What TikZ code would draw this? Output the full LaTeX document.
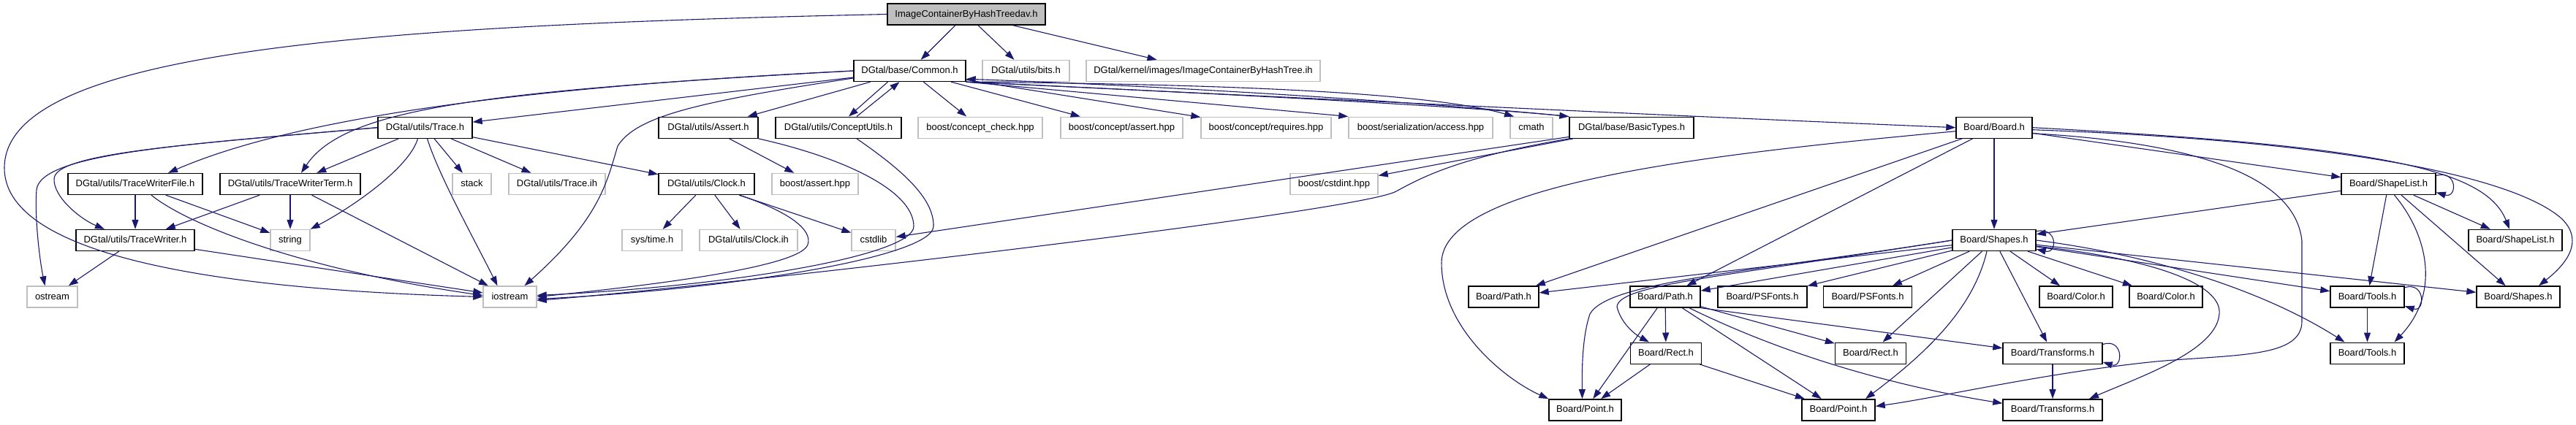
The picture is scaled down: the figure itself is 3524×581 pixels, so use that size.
\documentclass[tikz,border=0pt]{standalone}
\usepackage{fontspec}
\setmainfont{Liberation Sans}
\usetikzlibrary{arrows.meta}
\definecolor{edgeblue}{HTML}{191970}
\definecolor{extgray}{HTML}{BFBFBF}
\begin{document}
\begin{tikzpicture}[x=1pt,y=-1pt,
 nd/.style={draw=black, fill=white, line width=1.4pt, minimum height=29pt, inner sep=0pt, font=\fontsize{13}{15}\selectfont, text height=9.5pt, text depth=2.5pt},
 ndext/.style={nd, draw=extgray},
 nroot/.style={nd, fill=extgray},
 edg/.style={draw=edgeblue, line width=1.1pt, -{Triangle[length=13pt,width=9pt]}}]
\fill[white] (0,0) rectangle (3524,581);
\useasboundingbox (0,0) rectangle (3524,581);
% row 0
\node[nroot, minimum width=216pt] (top) at (1322,19.5) {ImageContainerByHashTreedav.h};
% row 1
\node[nd, minimum width=153pt] (common) at (1244.5,97) {DGtal/base/Common.h};
\node[ndext, minimum width=119pt] (bits) at (1403.5,97) {DGtal/utils/bits.h};
\node[ndext, minimum width=320pt] (ihash) at (1646,97) {DGtal/kernel/images/ImageContainerByHashTree.ih};
% row 2
\node[nd, minimum width=129pt] (trace) at (581.5,174.7) {DGtal/utils/Trace.h};
\node[nd, minimum width=136pt] (assert) at (969,174.7) {DGtal/utils/Assert.h};
\node[nd, minimum width=172pt] (concept) at (1147,174.7) {DGtal/utils/ConceptUtils.h};
\node[ndext, minimum width=170pt] (cc) at (1341,174.7) {boost/concept\_check.hpp};
\node[ndext, minimum width=167pt] (cassert) at (1534.5,174.7) {boost/concept/assert.hpp};
\node[ndext, minimum width=178pt] (creq) at (1732,174.7) {boost/concept/requires.hpp};
\node[ndext, minimum width=197pt] (ser) at (1943.5,174.7) {boost/serialization/access.hpp};
\node[ndext, minimum width=58pt] (cmath) at (2095,174.7) {cmath};
\node[nd, minimum width=170pt] (basic) at (2232,174.7) {DGtal/base/BasicTypes.h};
\node[nd, minimum width=104pt] (board) at (2728,174.7) {Board/Board.h};
% row 3
\node[nd, minimum width=184pt] (twf) at (185,252) {DGtal/utils/TraceWriterFile.h};
\node[nd, minimum width=192pt] (twt) at (397,252) {DGtal/utils/TraceWriterTerm.h};
\node[ndext, minimum width=53pt] (stack) at (645.5,252) {stack};
\node[ndext, minimum width=132pt] (traceih) at (762,252) {DGtal/utils/Trace.ih};
\node[nd, minimum width=131pt] (clock) at (966.5,252) {DGtal/utils/Clock.h};
\node[ndext, minimum width=118pt] (bassert) at (1115,252) {boost/assert.hpp};
\node[ndext, minimum width=120pt] (cstdint) at (1825,252) {boost/cstdint.hpp};
\node[nd, minimum width=129pt] (shapelist) at (3267.5,252) {Board/ShapeList.h};
% row 4
\node[nd, minimum width=162pt] (tw) at (185,329) {DGtal/utils/TraceWriter.h};
\node[ndext, minimum width=54pt] (nstring) at (397,329) {string};
\node[ndext, minimum width=82pt] (systime) at (892,329) {sys/time.h};
\node[ndext, minimum width=134pt] (clockih) at (1024,329) {DGtal/utils/Clock.ih};
\node[ndext, minimum width=60pt] (cstdlib) at (1195,329) {cstdlib};
\node[nd, minimum width=114pt] (shapes) at (2728,329) {Board/Shapes.h};
\node[nd, minimum width=128pt] (shapelist2) at (3441,329) {Board/ShapeList.h};
% row 5
\node[ndext, minimum width=69pt] (ostream) at (71.5,406.5) {ostream};
\node[ndext, minimum width=73pt] (iostream) at (697.5,406.5) {iostream};
\node[nd, minimum width=96pt] (path1) at (2057,406.5) {Board/Path.h};
\node[nd, minimum width=96pt] (path2) at (2278,406.5) {Board/Path.h};
\node[nd, minimum width=122pt] (psf1) at (2411,406.5) {Board/PSFonts.h};
\node[nd, minimum width=121pt] (psf2) at (2555,406.5) {Board/PSFonts.h};
\node[nd, minimum width=100pt] (color1) at (2840,406.5) {Board/Color.h};
\node[nd, minimum width=100pt] (color2) at (2963,406.5) {Board/Color.h};
\node[nd, minimum width=101pt] (tools1) at (3238.5,406.5) {Board/Tools.h};
\node[nd, minimum width=114pt] (shapes2) at (3445,406.5) {Board/Shapes.h};
% row 6
\node[nd, minimum width=97pt] (rect1) at (2279,483.7) {Board/Rect.h};
\node[nd, minimum width=97pt] (rect2) at (2559,483.7) {Board/Rect.h};
\node[nd, minimum width=136pt] (trans1) at (2808,483.7) {Board/Transforms.h};
\node[nd, minimum width=101pt] (tools2) at (3238.5,483.7) {Board/Tools.h};
% row 7
\node[nd, minimum width=99pt] (point1) at (2168.5,561.3) {Board/Point.h};
\node[nd, minimum width=100pt] (point2) at (2515,561.3) {Board/Point.h};
\node[nd, minimum width=136pt] (trans2) at (2808,561.3) {Board/Transforms.h};

% ---- edges from top
\draw[edg] (top) -- (common);
\draw[edg] (top) -- (bits);
\draw[edg] (top) -- (ihash);
\draw[edg] (top.west) .. controls (500,35) and (6,70) .. (6,230) .. controls (6,340) and (250,395) .. (iostream.west);
% ---- Common.h
\draw[edg] (common) -- (trace);
\draw[edg] (common.west) .. controls (800,115) and (430,150) .. ([xshift=45pt]twf.north);
\draw[edg] (common.west) .. controls (650,125) and (470,150) .. ([xshift=15pt]twt.north);
\draw[edg] ([yshift=-10pt]common.west) .. controls (950,140) and (870,160) .. (845,200) .. controls (830,250) and (820,300) .. ([xshift=20pt]iostream.north);
\draw[edg] (common) -- (assert);
\draw[edg] ([xshift=-30pt]common.south) -- ([xshift=14pt]concept.north);
\draw[edg] ([xshift=25pt]concept.north) -- ([xshift=-14pt]common.south);
\draw[edg] (common) -- (cc);
\draw[edg] (common) -- (cassert);
\draw[edg] (common) -- (creq);
\draw[edg] (common.south east) -- (ser.north west);
\draw[edg] (common.south east) .. controls (1650,115) and (1950,125) .. ([xshift=-24pt]cmath.north);
\draw[edg] (common.south east) .. controls (1600,125) and (2000,145) .. (basic.north west);
\draw[edg] (basic.north west) .. controls (1950,140) and (1600,118) .. ([yshift=4pt]common.south east);
\draw[edg] (common.south east) .. controls (1700,130) and (2200,155) .. (board.west);
% ---- Trace.h
\draw[edg] (trace) -- (twt);
\draw[edg] (trace) -- (stack);
\draw[edg] (trace) -- (traceih);
\draw[edg] (trace) -- (clock);
\draw[edg] ([xshift=-10pt]trace.south) .. controls (560,230) and (480,285) .. (nstring.north east);
\draw[edg] ([xshift=3pt]trace.south) .. controls (600,240) and (650,330) .. ([xshift=-17pt]iostream.north);
\draw[edg] (trace.west) .. controls (250,198) and (75,210) .. (74,245) .. controls (73,270) and (110,300) .. ([xshift=-42pt]tw.north);
\draw[edg] (trace.west) .. controls (250,198) and (55,210) .. (50,260) .. controls (47,300) and (55,360) .. ([xshift=-10pt]ostream.north);
% ---- TraceWriterFile.h
\draw[edg] (twf) -- (tw);
\draw[edg] (twf) -- (nstring);
\draw[edg] ([xshift=22pt]twf.south) .. controls (260,310) and (420,370) .. ([yshift=2pt]iostream.west);
% ---- TraceWriterTerm.h
\draw[edg] (twt) -- (tw);
\draw[edg] (twt) -- (nstring);
\draw[edg] (twt) -- (iostream);
% ---- TraceWriter.h
\draw[edg] (tw) -- (ostream);
\draw[edg] (tw) -- (iostream);
% ---- Clock.h
\draw[edg] (clock) -- (systime);
\draw[edg] (clock) -- (clockih);
\draw[edg] (clock) -- (cstdlib);
\draw[edg] ([xshift=45pt]clock.south) .. controls (1080,290) and (1112,315) .. (1105,335) .. controls (1095,365) and (900,390) .. (iostream.east);
% ---- Assert.h
\draw[edg] (assert) -- (bassert);
\draw[edg] (assert.south east) .. controls (1150,215) and (1250,260) .. (1250,310) .. controls (1250,350) and (1000,392) .. ([yshift=2pt]iostream.east);
% ---- ConceptUtils.h
\draw[edg] ([xshift=25pt]concept.south) .. controls (1230,230) and (1278,270) .. (1277,310) .. controls (1276,352) and (1000,396) .. ([yshift=-3pt]iostream.east);
% ---- BasicTypes.h
\draw[edg] (basic) -- (cstdint);
\draw[edg] (basic) -- (cstdlib);
\draw[edg] (basic.south west) .. controls (2000,215) and (1950,240) .. (1910,262) .. controls (1860,290) and (1000,390) .. ([yshift=-5pt]iostream.east);
% ---- Board.h
\draw[edg] (board) -- (shapes);
\draw[edg] (board) -- (shapelist);
\draw[edg] (board.east) .. controls (3250,200) and (3400,230) .. ([xshift=-8pt]shapelist2.north);
\draw[edg] ([yshift=-3pt]board.east) .. controls (3250,195) and (3450,250) .. (3505,300) .. controls (3540,335) and (3500,370) .. ([xshift=28pt]shapes2.north);
\draw[edg] ([yshift=-5pt]board.west) .. controls (2350,210) and (1972,250) .. (1972,360) .. controls (1972,450) and (2060,520) .. (point1.north west);
\draw[edg] (board) -- (path1);
\draw[edg] (board) -- (path2);
\draw[edg] ([yshift=-8pt]board.east) .. controls (3000,195) and (3140,240) .. (3149,330) -- (3149,440) .. controls (3149,490) and (3060,485) .. (2950,495) .. controls (2800,510) and (2650,545) .. ([yshift=5pt]point2.east);
% ---- Shapes.h
\draw[edg] (shapes.12) .. controls (2815,310) and (2815,348) .. (shapes.-12);
\draw[edg] (shapes) -- (path1);
\draw[edg] (shapes) -- (path2);
\draw[edg] (shapes) -- (psf1);
\draw[edg] (shapes) -- (psf2);
\draw[edg] (shapes) -- (rect2);
\draw[edg] ([xshift=-10pt]shapes.south) .. controls (2700,420) and (2640,480) .. ([xshift=37pt]point2.north);
\draw[edg] (shapes.west) .. controls (2400,372) and (2200,385) .. (2175,430) .. controls (2165,460) and (2164,500) .. ([xshift=-4pt]point1.north);
\draw[edg] (shapes.west) .. controls (2350,380) and (2215,390) .. (2212,420) .. controls (2218,445) and (2240,460) .. ([xshift=-23pt]rect1.north);
\draw[edg] (shapes) -- (color1);
\draw[edg] (shapes) -- (color2);
\draw[edg] (shapes) -- (trans1);
\draw[edg] (shapes.-8) .. controls (2950,355) and (3040,390) .. (3036,430) .. controls (3032,480) and (2930,515) .. ([xshift=50pt]trans2.north);
\draw[edg] (shapes) -- (tools1);
\draw[edg] (shapes.east) .. controls (2950,350) and (3100,400) .. ([xshift=-31pt]tools2.north);
\draw[edg] (shapes) -- (shapes2);
% ---- ShapeList.h
\draw[edg] (shapelist.10) .. controls (3362,232) and (3362,272) .. (shapelist.-10);
\draw[edg] (shapelist) -- (shapes);
\draw[edg] (shapelist) -- (tools1);
\draw[edg] ([xshift=8pt]shapelist.south) .. controls (3320,320) and (3340,400) .. ([xshift=37pt]tools2.north);
\draw[edg] (shapelist) -- (shapes2);
\draw[edg] (shapelist) -- (shapelist2);
% ---- Path.h
\draw[edg] (path2) -- (point1);
\draw[edg] (path2) -- (rect1);
\draw[edg] (path2) -- (point2);
\draw[edg] (path2) -- (rect2);
\draw[edg] (path2.south east) -- ([yshift=7pt]trans1.west);
\draw[edg] ([xshift=33pt]path2.south) .. controls (2450,490) and (2600,530) .. ([yshift=9pt]trans2.west);
% ---- Rect.h
\draw[edg] (rect1) -- (point1);
\draw[edg] (rect1) -- (point2);
% ---- Transforms.h
\draw[edg] (trans1.10) .. controls (2905,462) and (2905,505) .. (trans1.-10);
\draw[edg] (trans1) -- (trans2);
% ---- Tools.h
\draw[edg] (tools1.14) .. controls (3318,385) and (3318,428) .. (tools1.-14);
\draw[edg] (tools1) -- (tools2);
\end{tikzpicture}
\end{document}
